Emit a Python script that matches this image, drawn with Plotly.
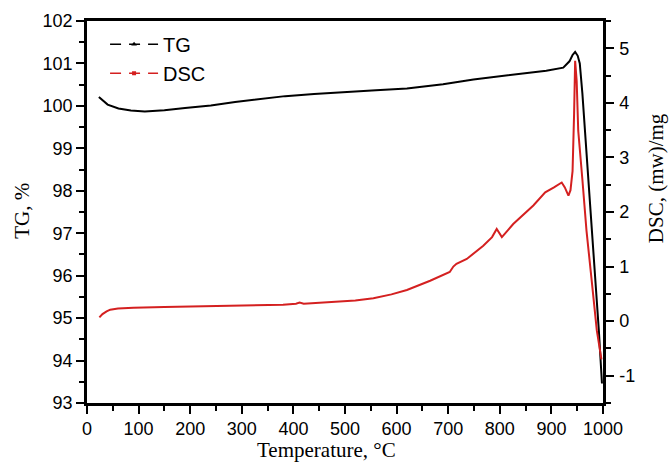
import plotly.graph_objects as go

# Thermogravimetric (TG) curve, mass % vs temperature (°C)
tg_temp = [23, 40, 61, 85, 112, 150, 190, 240, 287, 340, 384, 440, 500, 560, 620,
           690, 749, 800, 845, 890, 923, 935, 941, 946, 951, 955, 960, 965, 975,
           985, 992, 998]
tg_val = [100.21, 100.03, 99.94, 99.89, 99.87, 99.90, 99.95, 100.01, 100.09, 100.17,
          100.23, 100.28, 100.33, 100.37, 100.41, 100.51, 100.62, 100.69, 100.76,
          100.83, 100.90, 101.05, 101.20, 101.27, 101.18, 101.00, 100.30, 99.43,
          97.86, 95.90, 94.70, 93.46]

# DSC heat-flow curve, (mW)/mg vs temperature (°C)
dsc_temp = [24, 30, 38, 45, 60, 90, 150, 219, 280, 348, 380, 405, 412, 420, 450,
            477, 520, 555, 590, 620, 665, 703, 710, 716, 736, 768, 785, 794, 799,
            804, 815, 826, 865, 888, 905, 920, 926, 933, 937, 941, 944, 946, 949,
            952, 960, 968, 978, 988, 997]
dsc_val = [0.07, 0.13, 0.18, 0.21, 0.23, 0.245, 0.26, 0.27, 0.28, 0.29, 0.30, 0.32,
           0.34, 0.32, 0.34, 0.36, 0.38, 0.42, 0.49, 0.57, 0.74, 0.90, 1.00, 1.05,
           1.14, 1.38, 1.54, 1.69, 1.62, 1.54, 1.66, 1.78, 2.12, 2.36, 2.45, 2.54,
           2.45, 2.30, 2.40, 2.75, 3.80, 4.77, 4.40, 3.49, 2.60, 1.66, 0.75, -0.17,
           -0.70]

x_ticks = list(range(0, 1001, 100))
dsc_ticks = [-1, 0, 1, 2, 3, 4, 5]
dsc_tick_text = ["-1", "0", "1", "2", "3", "4", "5"]

RED = "#d42020"
TICK_FONT = dict(family="Liberation Sans, Arial, sans-serif", size=18, color="black")
LEGEND_FONT = dict(family="Liberation Sans, Arial, sans-serif", size=20, color="black")
TITLE_FONT = dict(family="Liberation Serif, Times New Roman, serif", size=21, color="black")

fig = go.Figure()

fig.add_trace(go.Scatter(x=tg_temp, y=tg_val, mode="lines", yaxis="y",
                         line=dict(color="black", width=2), showlegend=False))
fig.add_trace(go.Scatter(x=dsc_temp, y=dsc_val, mode="lines", yaxis="y2",
                         line=dict(color=RED, width=2), showlegend=False))

# Legend entries: dash - marker - dash
fig.add_trace(go.Scatter(x=[None], y=[None], mode="lines+markers", name="TG",
                         line=dict(color="black", width=1.5, dash="11px,8px"),
                         marker=dict(symbol="triangle-up", size=5, color="black")))
fig.add_trace(go.Scatter(x=[None], y=[None], mode="lines+markers", name="DSC",
                         line=dict(color=RED, width=1.5, dash="11px,8px"),
                         marker=dict(symbol="square", size=4, color=RED)))

axis_common = dict(
    ticks="outside", ticklen=8, tickwidth=2, tickcolor="black",
    showline=True, linecolor="black", linewidth=2.5,
    showgrid=False, zeroline=False, tickfont=TICK_FONT, automargin=False,
)

fig.update_layout(
    width=670, height=464,
    margin=dict(l=87, r=67, t=21, b=61, autoexpand=False),
    paper_bgcolor="white", plot_bgcolor="white",
    showlegend=True,
    legend=dict(x=0.035, y=0.99, xanchor="left", yanchor="top",
                bgcolor="rgba(0,0,0,0)", font=LEGEND_FONT, itemwidth=48,
                tracegroupgap=0),
    xaxis=dict(
        range=[0, 1000], tickvals=x_ticks, mirror=True,
        minor=dict(dtick=50, ticks="outside", ticklen=5, tickwidth=2, tickcolor="black"),
        **axis_common,
    ),
    yaxis=dict(
        range=[93, 102], dtick=1,
        minor=dict(dtick=0.5, ticks="outside", ticklen=5, tickwidth=2, tickcolor="black"),
        **axis_common,
    ),
    yaxis2=dict(
        range=[-1.5, 5.5], tickvals=dsc_ticks, ticktext=dsc_tick_text,
        overlaying="y", side="right", ticklabelstandoff=2,
        minor=dict(dtick=0.5, ticks="outside", ticklen=5, tickwidth=2, tickcolor="black"),
        **axis_common,
    ),
    annotations=[
        dict(text="Temperature, °C", xref="paper", yref="paper", x=0.465, y=-0.157,
             xanchor="center", yanchor="bottom", showarrow=False, font=TITLE_FONT,
             borderpad=0),
        dict(text="TG, %", xref="paper", yref="paper", x=-0.126, y=0.503,
             xanchor="center", yanchor="middle", textangle=-90, showarrow=False,
             font=TITLE_FONT, borderpad=0),
        dict(text="DSC, (mw)/mg", xref="paper", yref="paper", x=1.103, y=0.589,
             xanchor="center", yanchor="middle", textangle=-90, showarrow=False,
             font=TITLE_FONT, borderpad=0),
    ],
)

fig.write_html("out.html")
